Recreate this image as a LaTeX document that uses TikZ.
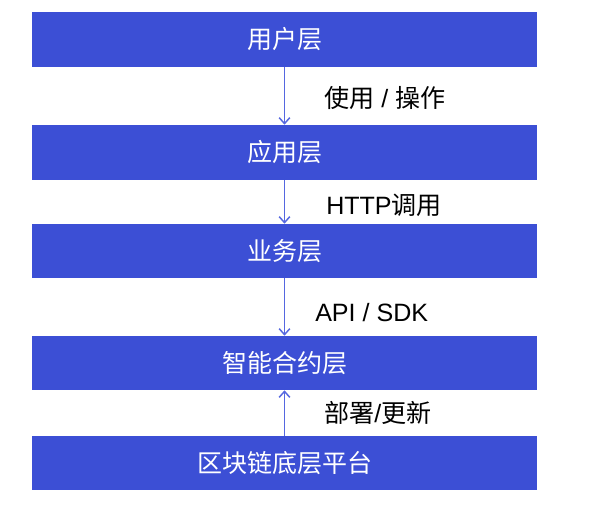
\documentclass[tikz,border=0pt]{standalone}
\usepackage{fontspec}
\setmainfont{Liberation Sans}
\newfontfamily\cjk{Noto Sans CJK SC}
\usetikzlibrary{arrows.meta}
\definecolor{boxblue}{HTML}{3C4FD5}
\definecolor{arrowblue}{HTML}{5567E0}
\tikzset{
  layer/.style={fill=boxblue, draw=none, text=white, minimum width=378.75pt,
    inner sep=0pt, font=\cjk\fontsize{18.75}{22}\selectfont},
  flow/.style={draw=arrowblue, line width=1.1pt,
    -{Straight Barb[length=4.5pt,width=8pt,line width=1.1pt]}},
  lbl/.style={anchor=west, inner sep=0pt, text=black, font=\fontsize{18.8}{22}\selectfont}
}
\begin{document}
\begin{tikzpicture}[x=0.75pt,y=-0.75pt]
\useasboundingbox (0,0) rectangle (597,518);
\node[layer, minimum height=41.25pt] (u) at (284.5,39.5) {用户层};
\node[layer, minimum height=41.25pt] (a) at (284.5,152.5) {应用层};
\node[layer, minimum height=40.5pt] (b) at (284.5,251) {业务层};
\node[layer, minimum height=40.5pt] (s) at (284.5,363) {智能合约层};
\node[layer, minimum height=40.5pt] (p) at (284.5,463) {区块链底层平台};
\draw[flow] (u.south) -- (a.north);
\draw[flow] (a.south) -- (b.north);
\draw[flow] (b.south) -- (s.north);
\draw[flow] (p.north) -- (s.south);
\node[lbl] (l1) at (324,98) {{\cjk 使用} / {\cjk 操作}};
\node[lbl] (l2) at (326,205) {HTTP{\cjk 调用}};
\node[lbl] (l3) at (315,313) {API / SDK};
\node[lbl] (l4) at (324,413) {{\cjk 部署}/{\cjk 更新}};
\end{tikzpicture}
\end{document}
